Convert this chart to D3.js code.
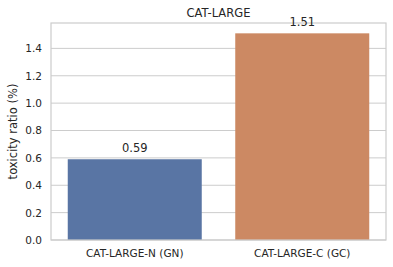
<!DOCTYPE html>
<html>
<head>
<meta charset="utf-8">
<script src="https://cdn.jsdelivr.net/npm/d3@7"></script>
<style>
  body { margin: 0; background: #fff; }
  text { font-family: "DejaVu Sans", sans-serif; fill: #262626; }
</style>
</head>
<body>
<svg id="chart" width="393" height="267"></svg>
<script>
var categories = ["CAT-LARGE-N (GN)", "CAT-LARGE-C (GC)"];
var values = [0.59, 1.51];
var colors = ["#5975a4", "#cc8963"];
var y_ticks = [0.0, 0.2, 0.4, 0.6, 0.8, 1.0, 1.2, 1.4];
var title = "CAT-LARGE";
var y_label = "toxicity ratio (%)";

var svg = d3.select("#chart"),
    margin = {top: 23, left: 51, bottom: 27, right: 7},
    width = 393, height = 267;

var x = d3.scaleBand()
    .domain(categories)
    .range([margin.left, width - margin.right])
    .paddingInner(0.2)
    .paddingOuter(0.1);

var y = d3.scaleLinear()
    .domain([0, d3.max(values) * 1.05])
    .range([height - margin.bottom, margin.top]);

// grid
svg.append("g")
    .selectAll("line")
    .data(y_ticks)
    .enter().append("line")
    .attr("x1", margin.left)
    .attr("x2", width - margin.right)
    .attr("y1", d => y(d))
    .attr("y2", d => y(d))
    .attr("stroke", "#cccccc")
    .attr("stroke-width", 1);

// bars
svg.append("g")
    .selectAll("rect")
    .data(values)
    .enter().append("rect")
    .attr("x", (d, i) => x(categories[i]))
    .attr("width", x.bandwidth())
    .attr("y", d => y(d))
    .attr("height", d => y(0) - y(d))
    .attr("fill", (d, i) => colors[i]);

// frame
svg.append("rect")
    .attr("x", margin.left)
    .attr("y", margin.top)
    .attr("width", width - margin.left - margin.right)
    .attr("height", height - margin.top - margin.bottom)
    .attr("fill", "none")
    .attr("stroke", "#cccccc")
    .attr("stroke-width", 1.2);

// y axis
var yAxis = svg.append("g")
    .attr("transform", `translate(${margin.left},0)`)
    .call(d3.axisLeft(y).tickValues(y_ticks).tickFormat(d3.format(".1f")).tickSize(0).tickPadding(9));
yAxis.select(".domain").remove();
yAxis.selectAll("text").attr("font-size", "10.5px").attr("font-family", "DejaVu Sans").attr("fill", "#262626");

// x axis
var xAxis = svg.append("g")
    .attr("transform", `translate(0,${height - margin.bottom})`)
    .call(d3.axisBottom(x).tickSize(0).tickPadding(10));
xAxis.select(".domain").remove();
xAxis.selectAll("text").attr("font-size", "10.5px").attr("font-family", "DejaVu Sans").attr("fill", "#262626");

// value labels
svg.append("g")
    .selectAll("text")
    .data(values)
    .enter().append("text")
    .attr("x", (d, i) => x(categories[i]) + x.bandwidth() / 2)
    .attr("y", d => y(d) - 7)
    .attr("text-anchor", "middle")
    .attr("font-size", "11.5px")
    .text(d => d.toFixed(2));

// title
svg.append("text")
    .attr("x", (margin.left + width - margin.right) / 2)
    .attr("y", 17)
    .attr("text-anchor", "middle")
    .attr("font-size", "11.5px")
    .text(title);

// y label
svg.append("text")
    .attr("transform", `translate(17,${(margin.top + height - margin.bottom) / 2}) rotate(-90)`)
    .attr("text-anchor", "middle")
    .attr("font-size", "11.5px")
    .text(y_label);
</script>
</body>
</html>
